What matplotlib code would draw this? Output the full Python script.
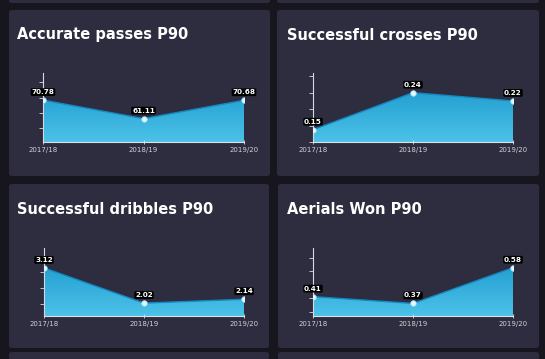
import matplotlib
matplotlib.use("Agg")
import matplotlib.pyplot as plt
import numpy as np
from matplotlib.patches import FancyBboxPatch, Polygon
from matplotlib.colors import LinearSegmentedColormap

seasons = ["2017/18", "2018/19", "2019/20"]
titles = ["Accurate passes P90", "Successful crosses P90",
          "Successful dribbles P90", "Aerials Won P90"]
accurate_passes = [70.78, 61.11, 70.68]
successful_crosses = [0.15, 0.24, 0.22]
successful_dribbles = [3.12, 2.02, 2.14]
aerials_won = [0.41, 0.37, 0.58]
series = [accurate_passes, successful_crosses, successful_dribbles, aerials_won]

W, H = 545, 359
BG = "#17161f"
CARD = "#2e2d40"

fig = plt.figure(figsize=(W / 100, H / 100), dpi=100)
fig.patch.set_facecolor(BG)

def card(x0, y0, x1, y1):
    p = FancyBboxPatch((x0 / W, 1 - y1 / H), (x1 - x0) / W, (y1 - y0) / H,
                       boxstyle="round,pad=0,rounding_size=0.006",
                       transform=fig.transFigure, facecolor=CARD,
                       edgecolor="none", zorder=0)
    fig.add_artist(p)

cards = [(9, 10, 270, 176), (277, 10, 539, 176),
         (9, 184, 269, 348), (278, 184, 539, 348),
         (9, -10, 270, 3), (277, -10, 539, 3),
         (9, 352, 269, 370), (278, 352, 539, 370)]
for c in cards:
    card(*c)

# axes boxes in px: (left, top, right, bottom)
boxes = [(43, 73, 244, 142), (313, 73, 513, 142),
         (44, 248, 244, 316), (313, 248, 513, 316)]
title_pos = [(17, 35), (287, 35), (17, 209), (287, 209)]

cmap = LinearSegmentedColormap.from_list("g", ["#4cc2e8", "#1492c8"])
grad = np.linspace(0, 1, 256).reshape(-1, 1)

for i, (vals, title) in enumerate(zip(series, titles)):
    l, t, r, b = boxes[i]
    ax = fig.add_axes([l / W, 1 - b / H, (r - l) / W, (b - t) / H])
    ax.set_facecolor("none")
    ymin, ymax = min(vals) * 0.8, max(vals) * 1.2
    x = np.arange(len(vals))
    ax.set_xlim(0, len(vals) - 1)
    ax.set_ylim(ymin, ymax)

    im = ax.imshow(grad, extent=[0, len(vals) - 1, ymin, ymax], aspect="auto",
                   origin="lower", cmap=cmap, zorder=1)
    verts = [(0, ymin)] + list(zip(x, vals)) + [(len(vals) - 1, ymin)]
    poly = Polygon(verts, closed=True, facecolor="none", edgecolor="none",
                   transform=ax.transData)
    ax.add_patch(poly)
    im.set_clip_path(poly)
    ax.plot(x, vals, color="#1488c0", lw=1.0, zorder=2)
    ax.plot(x, vals, "o", ms=4, mfc="#eaf8ff", mec="#8fdcf5", mew=0.6,
            zorder=4)
    for xi, v in zip(x, vals):
        ax.annotate(f"{v:.2f}", (xi, v), xytext=(0, 8),
                    textcoords="offset pixels", ha="center", va="center",
                    fontsize=5.2, fontweight="bold", color="white",
                    family="DejaVu Sans",
                    bbox=dict(boxstyle="round,pad=0.12,rounding_size=0.2",
                              fc="black", ec="none"), zorder=5)

    for s in ["top", "right"]:
        ax.spines[s].set_visible(False)
    ax.spines["left"].set_color("#d8d8e0")
    ax.spines["left"].set_linewidth(0.8)
    ax.spines["bottom"].set_color("#e0e0e8")
    ax.spines["bottom"].set_linewidth(0.8)
    ax.set_xticks(x)
    ax.set_xticklabels(seasons, fontsize=5, color="#d0d0d8",
                       family="DejaVu Sans")
    ax.tick_params(axis="x", length=3, width=0.6, color="#e0e0e8", pad=2,
                   direction="inout")
    ax.yaxis.set_major_locator(plt.MaxNLocator(5))
    ax.tick_params(axis="y", length=3, width=0.6, color="#d8d8e0",
                   labelleft=False)

    tx, ty = title_pos[i]
    fig.text(tx / W, 1 - ty / H, title, fontsize=10.5, fontweight="bold",
             color="white", family="DejaVu Sans", va="center", ha="left")

fig.savefig("out.png", dpi=100, facecolor=BG)
